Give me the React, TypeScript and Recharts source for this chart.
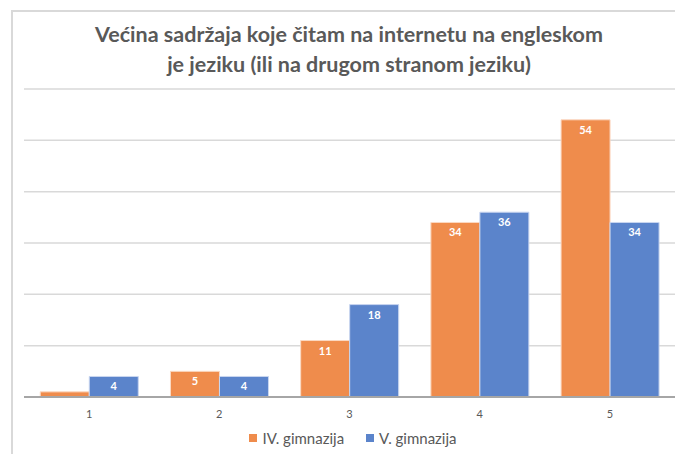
import React from "react";
import { BarChart, Bar, XAxis, YAxis, CartesianGrid, LabelList } from "recharts";

const categories = ["1", "2", "3", "4", "5"];
const gimnazijaIV = [1, 5, 11, 34, 54];
const gimnazijaV = [4, 4, 18, 36, 34];
const seriesNames = ["IV. gimnazija", "V. gimnazija"];
const seriesColors = ["#EF8C4C", "#5B84CB"];
const yTicks = [0, 10, 20, 30, 40, 50, 60];
const titleLines = [
  "Većina sadržaja koje čitam na internetu na engleskom",
  "je jeziku (ili na drugom stranom jeziku)",
];

const data = categories.map((c, i) => ({
  cat: c,
  iv: gimnazijaIV[i],
  v: gimnazijaV[i],
}));

const FONT = "Lato, 'Open Sans', sans-serif";

const renderLabel = (props: any) => {
  const { x, y, width, value } = props;
  if (value < 2) return null;
  return (
    <text
      x={x + width / 2}
      y={y + 14}
      textAnchor="middle"
      fill="#ffffff"
      fontSize={11}
      fontWeight={700}
      fontFamily={FONT}
    >
      {value}
    </text>
  );
};

export default function App() {
  return (
    <div
      style={{
        position: "absolute",
        left: 0,
        top: 0,
        width: 675,
        height: 454,
        overflow: "hidden",
        background: "#ffffff",
        fontFamily: FONT,
      }}
    >
      <div
        style={{
          position: "absolute",
          left: 11,
          top: 10,
          width: 700,
          height: 500,
          borderLeft: "2px solid #d9d9d9",
          borderTop: "2px solid #d9d9d9",
        }}
      />
      <div
        style={{
          position: "absolute",
          left: 0,
          top: 19,
          width: 698,
          textAlign: "center",
          fontSize: 21.5,
          fontWeight: 700,
          color: "#595959",
          lineHeight: "30px",
        }}
      >
        {titleLines.map((t, i) => (
          <div key={i}>{t}</div>
        ))}
      </div>
      <div style={{ position: "absolute", left: 0, top: 0 }}>
        <BarChart
          width={675}
          height={454}
          data={data}
          margin={{ top: 89, right: 0, left: 24, bottom: 37 }}
          barCategoryGap="12.5%"
          barGap={0}
        >
          <CartesianGrid horizontal vertical={false} stroke="#d9d9d9" strokeWidth={1.5} />
          <XAxis
            dataKey="cat"
            height={20}
            axisLine={{ stroke: "#a6a6a6", strokeWidth: 2 }}
            tickLine={false}
            tick={{ fill: "#595959", fontSize: 11, fontFamily: FONT }}
            tickMargin={7}
          />
          <YAxis hide domain={[0, 60]} ticks={yTicks} />
          <Bar
            dataKey="iv"
            name={seriesNames[0]}
            fill={seriesColors[0]}
            stroke="#fbd9c3"
            strokeWidth={1}
            isAnimationActive={false}
          >
            <LabelList dataKey="iv" content={renderLabel} />
          </Bar>
          <Bar
            dataKey="v"
            name={seriesNames[1]}
            fill={seriesColors[1]}
            stroke="#c9d6f0"
            strokeWidth={1}
            isAnimationActive={false}
          >
            <LabelList dataKey="v" content={renderLabel} />
          </Bar>
        </BarChart>
      </div>
      <div
        style={{
          position: "absolute",
          left: 0,
          top: 428,
          width: 706,
          display: "flex",
          justifyContent: "center",
          fontSize: 15,
          lineHeight: "20px",
          color: "#595959",
        }}
      >
        {seriesNames.map((n, i) => (
          <div key={n} style={{ display: "flex", alignItems: "center", marginRight: i === 0 ? 22 : 0 }}>
            <span
              style={{
                display: "inline-block",
                width: 8,
                height: 8,
                background: seriesColors[i],
                marginRight: 5,
              }}
            />
            <span>{n}</span>
          </div>
        ))}
      </div>
    </div>
  );
}
